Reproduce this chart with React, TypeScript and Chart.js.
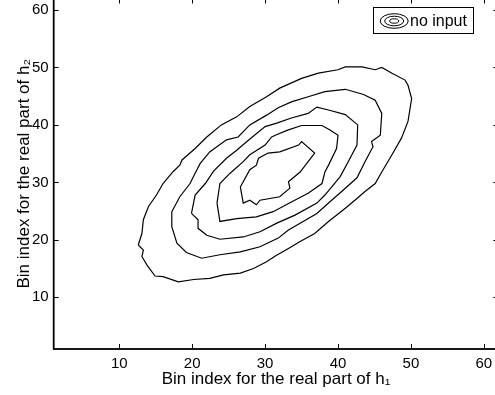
import React, { useEffect, useRef } from "react";
import { Chart, registerables } from "chart.js";

Chart.register(...registerables);

// ---- Text ----
const xAxisTitle = "Bin index for the real part of h₁";
const yAxisTitle = "Bin index for the real part of h₂";
const legendLabel = "no input";

// ---- Axes ----
const axisMin = 1;
const axisMax = 62;
const xTickValues = [10, 20, 30, 40, 50, 60];
const yTickValues = [10, 20, 30, 40, 50, 60];

// ---- Contour levels (outermost to innermost), closed paths ----
const contour1X = [12.6, 13.3, 13.1, 13.8, 14.9, 16.0, 18.1, 20.2, 22.4, 24.3, 26.6, 28.4, 30.2, 31.4, 33.2, 34.8, 36.8, 38.7, 41.0, 42.6, 43.7, 45.1, 46.0, 47.4, 48.7, 49.6, 50.1, 49.6, 49.2, 47.4, 46.0, 45.1, 43.3, 41.0, 40.0, 37.3, 35.0, 32.0, 30.2, 27.9, 26.1, 24.0, 22.0, 20.4, 18.6, 18.3, 17.4, 16.0, 15.1, 14.0, 13.3, 13.1];
const contour1Y = [19.1, 18.2, 17.1, 15.6, 13.7, 13.6, 12.7, 13.1, 13.3, 13.9, 14.2, 15.0, 16.2, 17.2, 18.5, 19.7, 21.1, 23.2, 25.5, 27.2, 28.4, 29.8, 31.8, 34.8, 37.7, 40.6, 44.6, 46.9, 47.8, 49.0, 50.0, 49.6, 50.1, 50.1, 49.6, 49.0, 48.1, 46.4, 44.9, 43.2, 41.4, 40.0, 37.9, 35.9, 33.9, 33.0, 31.9, 29.8, 27.8, 25.8, 23.5, 21.1];

const contour2X = [17.2, 17.2, 17.9, 19.2, 21.3, 23.8, 26.6, 29.3, 31.8, 33.2, 34.8, 37.1, 38.7, 40.5, 42.6, 43.7, 44.8, 44.6, 45.8, 46.0, 45.1, 43.5, 41.0, 38.2, 35.9, 33.6, 31.8, 30.2, 27.9, 26.3, 24.7, 22.4, 21.1, 20.4, 19.7, 18.3];
const contour2Y = [24.9, 22.3, 19.4, 17.8, 16.8, 17.4, 17.9, 18.8, 20.3, 21.7, 22.9, 24.6, 26.4, 28.4, 30.8, 33.6, 36.2, 37.1, 38.2, 42.0, 44.3, 45.3, 46.2, 45.8, 44.9, 44.0, 43.0, 41.7, 40.0, 37.9, 37.4, 35.3, 33.3, 31.6, 29.8, 27.5];

const contour3X = [19.9, 20.8, 20.8, 22.0, 23.8, 27.0, 29.3, 31.6, 34.1, 37.1, 38.2, 40.3, 41.4, 42.6, 42.7, 41.0, 38.7, 37.1, 35.9, 33.6, 31.6, 30.0, 27.5, 26.1, 24.7, 22.9, 21.8, 20.4];
const contour3Y = [24.6, 23.5, 22.0, 20.8, 20.1, 20.5, 21.4, 22.9, 24.3, 26.4, 27.8, 31.0, 33.6, 36.5, 40.0, 41.8, 42.6, 43.1, 42.0, 41.2, 40.3, 39.7, 37.1, 35.6, 34.2, 31.9, 29.8, 27.8];

const contour4X = [23.4, 23.8, 26.1, 28.8, 31.1, 33.6, 35.9, 37.8, 38.2, 38.7, 39.8, 40.0, 38.9, 37.8, 35.0, 33.1, 31.4, 30.9, 30.0, 27.9, 27.0, 25.2, 23.8];
const contour4Y = [26.4, 23.2, 23.7, 24.0, 24.9, 26.6, 28.1, 29.8, 31.8, 33.0, 35.9, 38.2, 39.1, 39.9, 39.9, 39.1, 38.2, 37.9, 36.5, 34.8, 33.6, 31.6, 29.8];

const contour5X = [26.6, 27.0, 27.9, 28.8, 29.3, 32.0, 33.4, 33.2, 34.8, 35.9, 36.8, 35.0, 34.6, 32.0, 30.4, 29.1, 28.8, 27.9];
const contour5Y = [29.2, 26.4, 26.9, 26.1, 26.9, 27.5, 29.0, 30.1, 31.8, 33.6, 35.1, 37.1, 36.5, 35.3, 35.1, 34.2, 33.0, 32.2];

const contourXs = [contour1X, contour2X, contour3X, contour4X, contour5X];
const contourYs = [contour1Y, contour2Y, contour3Y, contour4Y, contour5Y];

const FONT = "'Liberation Sans', Arial, Helvetica, sans-serif";

function closedPath(xs: number[], ys: number[]) {
  const pts = xs.map((x, i) => ({ x, y: ys[i] }));
  pts.push({ x: xs[0], y: ys[0] });
  return pts;
}

const boxPlugin = {
  id: "matlabBox",
  afterDraw(chart: any) {
    const { ctx, chartArea, scales } = chart;
    const { left, right, top, bottom } = chartArea;
    ctx.save();
    ctx.strokeStyle = "#000";
    // axes box
    ctx.lineWidth = 1.8;
    ctx.strokeRect(left, top, right - left, bottom - top);
    // inward ticks
    ctx.lineWidth = 1;
    const len = 5;
    ctx.beginPath();
    for (const v of xTickValues) {
      const px = Math.round(scales.x.getPixelForValue(v)) + 0.5;
      ctx.moveTo(px, bottom);
      ctx.lineTo(px, bottom - len);
      ctx.moveTo(px, top);
      ctx.lineTo(px, top + len);
    }
    for (const v of yTickValues) {
      const py = Math.round(scales.y.getPixelForValue(v)) + 0.5;
      ctx.moveTo(left, py);
      ctx.lineTo(left + len, py);
      ctx.moveTo(right, py);
      ctx.lineTo(right - len, py);
    }
    ctx.stroke();

    // legend box inside the axes, top right
    const bw = 100;
    const bh = 26;
    const bx = Math.round(right - 125.1) + 0.5;
    const by = Math.round(top + 8.8) + 0.5;
    ctx.fillStyle = "#fff";
    ctx.fillRect(bx, by, bw, bh);
    ctx.lineWidth = 1;
    ctx.strokeRect(bx, by, bw, bh);
    const cx = bx + 20.7;
    const cy = by + bh / 2 + 0.5;
    const rings = [
      [14, 7.3],
      [9.5, 4.8],
      [4.5, 2.2],
    ];
    for (const [rx, ry] of rings) {
      ctx.beginPath();
      ctx.ellipse(cx, cy, rx, ry, 0, 0, Math.PI * 2);
      ctx.stroke();
    }
    ctx.fillStyle = "#000";
    ctx.font = `16px ${FONT}`;
    ctx.textBaseline = "middle";
    ctx.textAlign = "left";
    ctx.fillText(legendLabel, bx + 36.5, by + bh / 2 + 1);
    ctx.restore();
  },
};

export default function App() {
  const ref = useRef<HTMLCanvasElement>(null);

  useEffect(() => {
    const canvas = ref.current;
    if (!canvas) return;
    const datasets = contourXs.map((xs, i) => ({
      label: i === 0 ? legendLabel : `${legendLabel} ${i + 1}`,
      data: closedPath(xs, contourYs[i]),
      showLine: true,
      borderColor: "#000",
      borderWidth: 1.2,
      pointRadius: 0,
      pointHoverRadius: 0,
      tension: 0,
      fill: false,
    }));

    const chart = new Chart(canvas, {
      type: "scatter",
      data: { datasets },
      plugins: [boxPlugin],
      options: {
        animation: false,
        responsive: false,
        devicePixelRatio: 1,
        events: [],
        layout: { padding: { top: 8.5, right: 21.6, left: 0, bottom: 0 } },
        plugins: {
          legend: { display: false },
          tooltip: { enabled: false },
          title: { display: false },
        },
        scales: {
          x: {
            type: "linear",
            position: "bottom",
            min: axisMin,
            max: axisMax,
            grid: { display: false, drawTicks: false },
            border: { display: false },
            ticks: {
              color: "#000",
              font: { family: FONT, size: 15 },
              padding: 6,
              maxRotation: 0,
              autoSkip: false,
            },
            title: {
              display: true,
              text: xAxisTitle,
              color: "#000",
              font: { family: FONT, size: 17 },
              padding: { top: 0, bottom: 20 },
            },
            afterBuildTicks: (s: any) => {
              s.ticks = xTickValues.map((v) => ({ value: v }));
            },
            afterFit: (s: any) => {
              s.height = 61;
              s.paddingLeft = 0;
              s.paddingRight = 0;
            },
          },
          y: {
            type: "linear",
            position: "left",
            min: axisMin,
            max: axisMax,
            grid: { display: false, drawTicks: false },
            border: { display: false },
            ticks: {
              color: "#000",
              font: { family: FONT, size: 15 },
              padding: 5,
              autoSkip: false,
            },
            title: {
              display: true,
              text: yAxisTitle,
              color: "#000",
              font: { family: FONT, size: 17 },
              padding: { top: 13.8, bottom: 0 },
            },
            afterBuildTicks: (s: any) => {
              s.ticks = yTickValues.map((v) => ({ value: v }));
            },
            afterFit: (s: any) => {
              s.width = 53.7;
              s.paddingTop = 0;
              s.paddingBottom = 0;
            },
          },
        },
      } as any,
    });
    return () => chart.destroy();
  }, []);

  return (
    <div style={{ position: "fixed", left: 0, top: -10, width: 520, height: 420 }}>
      <canvas ref={ref} width={520} height={420} style={{ display: "block", width: 520, height: 420 }} />
    </div>
  );
}
